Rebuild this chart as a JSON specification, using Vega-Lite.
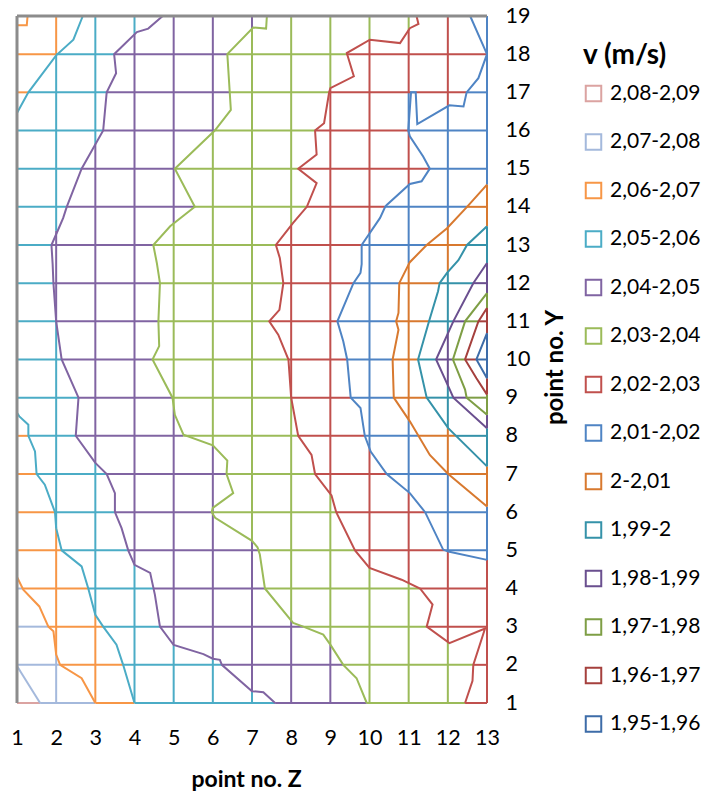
{
"$schema": "https://vega.github.io/schema/vega-lite/v6.json",
"width": 470, "height": 687,
"autosize": {"type": "none"},
"padding": {"left": 17, "top": 16, "right": 230, "bottom": 93},
"background": "white",
"config": {"view": {"stroke": null}, "font": "Lato", "axis": {"labelOverlap": false, "labelFlush": false, "labelBound": false}},
"datasets": {
"grid": [
{"z1":2,"y1":1,"z2":2,"y2":2.27,"v":"2,07-2,08"},{"z1":2,"y1":2.27,"z2":2,"y2":5.58,"v":"2,06-2,07"},{"z1":2,"y1":5.58,"z2":2,"y2":11,"v":"2,05-2,06"},{"z1":2,"y1":11,"z2":2,"y2":13.37,"v":"2,04-2,05"},{"z1":2,"y1":13.37,"z2":2,"y2":17.97,"v":"2,05-2,06"},{"z1":2,"y1":17.97,"z2":2,"y2":19,"v":"2,06-2,07"},
{"z1":3,"y1":1,"z2":3,"y2":3.31,"v":"2,06-2,07"},{"z1":3,"y1":3.31,"z2":3,"y2":7.29,"v":"2,05-2,06"},{"z1":3,"y1":7.29,"z2":3,"y2":15.64,"v":"2,04-2,05"},{"z1":3,"y1":15.64,"z2":3,"y2":19,"v":"2,05-2,06"},
{"z1":4,"y1":1,"z2":4,"y2":4.62,"v":"2,05-2,06"},{"z1":4,"y1":4.62,"z2":4,"y2":18.53,"v":"2,04-2,05"},{"z1":4,"y1":18.53,"z2":4,"y2":19,"v":"2,05-2,06"},
{"z1":5,"y1":1,"z2":5,"y2":2.52,"v":"2,05-2,06"},{"z1":5,"y1":2.52,"z2":5,"y2":8.75,"v":"2,04-2,05"},{"z1":5,"y1":8.75,"z2":5,"y2":13.56,"v":"2,03-2,04"},{"z1":5,"y1":13.56,"z2":5,"y2":19,"v":"2,04-2,05"},
{"z1":6,"y1":1,"z2":6,"y2":2.16,"v":"2,05-2,06"},{"z1":6,"y1":2.16,"z2":6,"y2":7.75,"v":"2,04-2,05"},{"z1":6,"y1":7.75,"z2":6,"y2":15.95,"v":"2,03-2,04"},{"z1":6,"y1":15.95,"z2":6,"y2":19,"v":"2,04-2,05"},
{"z1":7,"y1":1,"z2":7,"y2":1.31,"v":"2,05-2,06"},{"z1":7,"y1":1.31,"z2":7,"y2":5.25,"v":"2,04-2,05"},{"z1":7,"y1":5.25,"z2":7,"y2":18.67,"v":"2,03-2,04"},{"z1":7,"y1":18.67,"z2":7,"y2":19,"v":"2,04-2,05"},
{"z1":8,"y1":1,"z2":8,"y2":3.16,"v":"2,04-2,05"},{"z1":8,"y1":3.16,"z2":8,"y2":9,"v":"2,03-2,04"},{"z1":8,"y1":9,"z2":8,"y2":13.51,"v":"2,02-2,03"},{"z1":8,"y1":13.51,"z2":8,"y2":19,"v":"2,03-2,04"},
{"z1":9,"y1":1,"z2":9,"y2":2.53,"v":"2,04-2,05"},{"z1":9,"y1":2.53,"z2":9,"y2":6.48,"v":"2,03-2,04"},{"z1":9,"y1":6.48,"z2":9,"y2":17.1,"v":"2,02-2,03"},{"z1":9,"y1":17.1,"z2":9,"y2":19,"v":"2,03-2,04"},
{"z1":10,"y1":1,"z2":10,"y2":4.54,"v":"2,03-2,04"},{"z1":10,"y1":4.54,"z2":10,"y2":7.67,"v":"2,02-2,03"},{"z1":10,"y1":7.67,"z2":10,"y2":13.3,"v":"2,01-2,02"},{"z1":10,"y1":13.3,"z2":10,"y2":18.37,"v":"2,02-2,03"},{"z1":10,"y1":18.37,"z2":10,"y2":19,"v":"2,03-2,04"},
{"z1":11,"y1":1,"z2":11,"y2":4.14,"v":"2,03-2,04"},{"z1":11,"y1":4.14,"z2":11,"y2":6.53,"v":"2,02-2,03"},{"z1":11,"y1":6.53,"z2":11,"y2":8.43,"v":"2,01-2,02"},{"z1":11,"y1":8.43,"z2":11,"y2":12.52,"v":"2-2,01"},{"z1":11,"y1":12.52,"z2":11,"y2":14.57,"v":"2,01-2,02"},{"z1":11,"y1":14.57,"z2":11,"y2":15.96,"v":"2,02-2,03"},{"z1":11,"y1":15.96,"z2":11,"y2":17,"v":"2,01-2,02"},{"z1":11,"y1":17,"z2":11,"y2":18.64,"v":"2,02-2,03"},{"z1":11,"y1":18.64,"z2":11,"y2":19,"v":"2,03-2,04"},
{"z1":12,"y1":1,"z2":12,"y2":2.6,"v":"2,03-2,04"},{"z1":12,"y1":2.6,"z2":12,"y2":4.97,"v":"2,02-2,03"},{"z1":12,"y1":4.97,"z2":12,"y2":7,"v":"2,01-2,02"},{"z1":12,"y1":7,"z2":12,"y2":8.2,"v":"2-2,01"},{"z1":12,"y1":8.2,"z2":12,"y2":9.32,"v":"1,99-2"},{"z1":12,"y1":9.32,"z2":12,"y2":10.68,"v":"1,98-1,99"},{"z1":12,"y1":10.68,"z2":12,"y2":12.29,"v":"1,99-2"},{"z1":12,"y1":12.29,"z2":12,"y2":13.46,"v":"2-2,01"},{"z1":12,"y1":13.46,"z2":12,"y2":16.64,"v":"2,01-2,02"},{"z1":12,"y1":16.64,"z2":12,"y2":19,"v":"2,02-2,03"},
{"z1":13,"y1":1,"z2":13,"y2":4.75,"v":"2,02-2,03"},{"z1":13,"y1":4.75,"z2":13,"y2":6.15,"v":"2,01-2,02"},{"z1":13,"y1":6.15,"z2":13,"y2":7.2,"v":"2-2,01"},{"z1":13,"y1":7.2,"z2":13,"y2":8.2,"v":"1,99-2"},{"z1":13,"y1":8.2,"z2":13,"y2":8.55,"v":"1,98-1,99"},{"z1":13,"y1":8.55,"z2":13,"y2":9.08,"v":"1,97-1,98"},{"z1":13,"y1":9.08,"z2":13,"y2":9.51,"v":"1,96-1,97"},{"z1":13,"y1":9.51,"z2":13,"y2":10.69,"v":"1,95-1,96"},{"z1":13,"y1":10.69,"z2":13,"y2":11.35,"v":"1,96-1,97"},{"z1":13,"y1":11.35,"z2":13,"y2":11.74,"v":"1,97-1,98"},{"z1":13,"y1":11.74,"z2":13,"y2":12.53,"v":"1,98-1,99"},{"z1":13,"y1":12.53,"z2":13,"y2":13.49,"v":"1,99-2"},{"z1":13,"y1":13.49,"z2":13,"y2":14.58,"v":"2-2,01"},{"z1":13,"y1":14.58,"z2":13,"y2":19,"v":"2,01-2,02"},
{"z1":1,"y1":1,"z2":1.59,"y2":1,"v":"2,08-2,09"},{"z1":1.59,"y1":1,"z2":3,"y2":1,"v":"2,07-2,08"},{"z1":3,"y1":1,"z2":4,"y2":1,"v":"2,06-2,07"},{"z1":4,"y1":1,"z2":7.59,"y2":1,"v":"2,05-2,06"},{"z1":7.59,"y1":1,"z2":9.93,"y2":1,"v":"2,04-2,05"},{"z1":9.93,"y1":1,"z2":12.44,"y2":1,"v":"2,03-2,04"},{"z1":12.44,"y1":1,"z2":13,"y2":1,"v":"2,02-2,03"},
{"z1":1,"y1":2,"z2":2.1,"y2":2,"v":"2,07-2,08"},{"z1":2.1,"y1":2,"z2":3.71,"y2":2,"v":"2,06-2,07"},{"z1":3.71,"y1":2,"z2":6.23,"y2":2,"v":"2,05-2,06"},{"z1":6.23,"y1":2,"z2":9.33,"y2":2,"v":"2,04-2,05"},{"z1":9.33,"y1":2,"z2":12.65,"y2":2,"v":"2,03-2,04"},{"z1":12.65,"y1":2,"z2":13,"y2":2,"v":"2,02-2,03"},
{"z1":1,"y1":3,"z2":1.8,"y2":3,"v":"2,07-2,08"},{"z1":1.8,"y1":3,"z2":3.2,"y2":3,"v":"2,06-2,07"},{"z1":3.2,"y1":3,"z2":4.65,"y2":3,"v":"2,05-2,06"},{"z1":4.65,"y1":3,"z2":8.31,"y2":3,"v":"2,04-2,05"},{"z1":8.31,"y1":3,"z2":11.46,"y2":3,"v":"2,03-2,04"},{"z1":11.46,"y1":3,"z2":13,"y2":3,"v":"2,02-2,03"},
{"z1":1,"y1":4,"z2":1.15,"y2":4,"v":"2,07-2,08"},{"z1":1.15,"y1":4,"z2":2.82,"y2":4,"v":"2,06-2,07"},{"z1":2.82,"y1":4,"z2":4.49,"y2":4,"v":"2,05-2,06"},{"z1":4.49,"y1":4,"z2":7.33,"y2":4,"v":"2,04-2,05"},{"z1":7.33,"y1":4,"z2":11.29,"y2":4,"v":"2,03-2,04"},{"z1":11.29,"y1":4,"z2":13,"y2":4,"v":"2,02-2,03"},
{"z1":1,"y1":5,"z2":2.14,"y2":5,"v":"2,06-2,07"},{"z1":2.14,"y1":5,"z2":3.84,"y2":5,"v":"2,05-2,06"},{"z1":3.84,"y1":5,"z2":7.17,"y2":5,"v":"2,04-2,05"},{"z1":7.17,"y1":5,"z2":9.63,"y2":5,"v":"2,03-2,04"},{"z1":9.63,"y1":5,"z2":11.94,"y2":5,"v":"2,02-2,03"},{"z1":11.94,"y1":5,"z2":13,"y2":5,"v":"2,01-2,02"},
{"z1":1,"y1":6,"z2":1.97,"y2":6,"v":"2,06-2,07"},{"z1":1.97,"y1":6,"z2":3.5,"y2":6,"v":"2,05-2,06"},{"z1":3.5,"y1":6,"z2":5.97,"y2":6,"v":"2,04-2,05"},{"z1":5.97,"y1":6,"z2":9.15,"y2":6,"v":"2,03-2,04"},{"z1":9.15,"y1":6,"z2":11.42,"y2":6,"v":"2,02-2,03"},{"z1":11.42,"y1":6,"z2":13,"y2":6,"v":"2,01-2,02"},
{"z1":1,"y1":7,"z2":1.5,"y2":7,"v":"2,06-2,07"},{"z1":1.5,"y1":7,"z2":3.29,"y2":7,"v":"2,05-2,06"},{"z1":3.29,"y1":7,"z2":6.35,"y2":7,"v":"2,04-2,05"},{"z1":6.35,"y1":7,"z2":8.61,"y2":7,"v":"2,03-2,04"},{"z1":8.61,"y1":7,"z2":10.44,"y2":7,"v":"2,02-2,03"},{"z1":10.44,"y1":7,"z2":12.01,"y2":7,"v":"2,01-2,02"},{"z1":12.01,"y1":7,"z2":13,"y2":7,"v":"2-2,01"},
{"z1":1,"y1":8,"z2":1.29,"y2":8,"v":"2,06-2,07"},{"z1":1.29,"y1":8,"z2":2.5,"y2":8,"v":"2,05-2,06"},{"z1":2.5,"y1":8,"z2":5.25,"y2":8,"v":"2,04-2,05"},{"z1":5.25,"y1":8,"z2":8.18,"y2":8,"v":"2,03-2,04"},{"z1":8.18,"y1":8,"z2":9.88,"y2":8,"v":"2,02-2,03"},{"z1":9.88,"y1":8,"z2":11.25,"y2":8,"v":"2,01-2,02"},{"z1":11.25,"y1":8,"z2":12.21,"y2":8,"v":"2-2,01"},{"z1":12.21,"y1":8,"z2":13,"y2":8,"v":"1,99-2"},
{"z1":1,"y1":9,"z2":2.57,"y2":9,"v":"2,05-2,06"},{"z1":2.57,"y1":9,"z2":4.97,"y2":9,"v":"2,04-2,05"},{"z1":4.97,"y1":9,"z2":8,"y2":9,"v":"2,03-2,04"},{"z1":8,"y1":9,"z2":9.52,"y2":9,"v":"2,02-2,03"},{"z1":9.52,"y1":9,"z2":10.62,"y2":9,"v":"2,01-2,02"},{"z1":10.62,"y1":9,"z2":11.46,"y2":9,"v":"2-2,01"},{"z1":11.46,"y1":9,"z2":12.14,"y2":9,"v":"1,99-2"},{"z1":12.14,"y1":9,"z2":12.48,"y2":9,"v":"1,98-1,99"},{"z1":12.48,"y1":9,"z2":13,"y2":9,"v":"1,97-1,98"},
{"z1":1,"y1":10,"z2":2.14,"y2":10,"v":"2,05-2,06"},{"z1":2.14,"y1":10,"z2":4.46,"y2":10,"v":"2,04-2,05"},{"z1":4.46,"y1":10,"z2":7.93,"y2":10,"v":"2,03-2,04"},{"z1":7.93,"y1":10,"z2":9.43,"y2":10,"v":"2,02-2,03"},{"z1":9.43,"y1":10,"z2":10.59,"y2":10,"v":"2,01-2,02"},{"z1":10.59,"y1":10,"z2":11.24,"y2":10,"v":"2-2,01"},{"z1":11.24,"y1":10,"z2":11.7,"y2":10,"v":"1,99-2"},{"z1":11.7,"y1":10,"z2":12.13,"y2":10,"v":"1,98-1,99"},{"z1":12.13,"y1":10,"z2":12.44,"y2":10,"v":"1,97-1,98"},{"z1":12.44,"y1":10,"z2":12.73,"y2":10,"v":"1,96-1,97"},{"z1":12.73,"y1":10,"z2":13,"y2":10,"v":"1,95-1,96"},
{"z1":1,"y1":11,"z2":2,"y2":11,"v":"2,05-2,06"},{"z1":2,"y1":11,"z2":4.61,"y2":11,"v":"2,04-2,05"},{"z1":4.61,"y1":11,"z2":7.44,"y2":11,"v":"2,03-2,04"},{"z1":7.44,"y1":11,"z2":9.18,"y2":11,"v":"2,02-2,03"},{"z1":9.18,"y1":11,"z2":10.68,"y2":11,"v":"2,01-2,02"},{"z1":10.68,"y1":11,"z2":11.52,"y2":11,"v":"2-2,01"},{"z1":11.52,"y1":11,"z2":12.14,"y2":11,"v":"1,99-2"},{"z1":12.14,"y1":11,"z2":12.44,"y2":11,"v":"1,98-1,99"},{"z1":12.44,"y1":11,"z2":12.78,"y2":11,"v":"1,97-1,98"},{"z1":12.78,"y1":11,"z2":13,"y2":11,"v":"1,96-1,97"},
{"z1":1,"y1":12,"z2":1.93,"y2":12,"v":"2,05-2,06"},{"z1":1.93,"y1":12,"z2":4.65,"y2":12,"v":"2,04-2,05"},{"z1":4.65,"y1":12,"z2":7.8,"y2":12,"v":"2,03-2,04"},{"z1":7.8,"y1":12,"z2":9.59,"y2":12,"v":"2,02-2,03"},{"z1":9.59,"y1":12,"z2":10.76,"y2":12,"v":"2,01-2,02"},{"z1":10.76,"y1":12,"z2":11.79,"y2":12,"v":"2-2,01"},{"z1":11.79,"y1":12,"z2":12.65,"y2":12,"v":"1,99-2"},{"z1":12.65,"y1":12,"z2":13,"y2":12,"v":"1,98-1,99"},
{"z1":1,"y1":13,"z2":1.88,"y2":13,"v":"2,05-2,06"},{"z1":1.88,"y1":13,"z2":4.48,"y2":13,"v":"2,04-2,05"},{"z1":4.48,"y1":13,"z2":7.61,"y2":13,"v":"2,03-2,04"},{"z1":7.61,"y1":13,"z2":9.8,"y2":13,"v":"2,02-2,03"},{"z1":9.8,"y1":13,"z2":11.46,"y2":13,"v":"2,01-2,02"},{"z1":11.46,"y1":13,"z2":12.49,"y2":13,"v":"2-2,01"},{"z1":12.49,"y1":13,"z2":13,"y2":13,"v":"1,99-2"},
{"z1":1,"y1":14,"z2":2.27,"y2":14,"v":"2,05-2,06"},{"z1":2.27,"y1":14,"z2":5.54,"y2":14,"v":"2,04-2,05"},{"z1":5.54,"y1":14,"z2":8.4,"y2":14,"v":"2,03-2,04"},{"z1":8.4,"y1":14,"z2":10.4,"y2":14,"v":"2,02-2,03"},{"z1":10.4,"y1":14,"z2":12.49,"y2":14,"v":"2,01-2,02"},{"z1":12.49,"y1":14,"z2":13,"y2":14,"v":"2-2,01"},
{"z1":1,"y1":15,"z2":2.65,"y2":15,"v":"2,05-2,06"},{"z1":2.65,"y1":15,"z2":5.03,"y2":15,"v":"2,04-2,05"},{"z1":5.03,"y1":15,"z2":8.18,"y2":15,"v":"2,03-2,04"},{"z1":8.18,"y1":15,"z2":11.54,"y2":15,"v":"2,02-2,03"},{"z1":11.54,"y1":15,"z2":13,"y2":15,"v":"2,01-2,02"},
{"z1":1,"y1":16,"z2":3.2,"y2":16,"v":"2,05-2,06"},{"z1":3.2,"y1":16,"z2":6.05,"y2":16,"v":"2,04-2,05"},{"z1":6.05,"y1":16,"z2":8.61,"y2":16,"v":"2,03-2,04"},{"z1":8.61,"y1":16,"z2":10.99,"y2":16,"v":"2,02-2,03"},{"z1":10.99,"y1":16,"z2":13,"y2":16,"v":"2,01-2,02"},
{"z1":1,"y1":17,"z2":1.29,"y2":17,"v":"2,06-2,07"},{"z1":1.29,"y1":17,"z2":3.29,"y2":17,"v":"2,05-2,06"},{"z1":3.29,"y1":17,"z2":6.43,"y2":17,"v":"2,04-2,05"},{"z1":6.43,"y1":17,"z2":8.97,"y2":17,"v":"2,03-2,04"},{"z1":8.97,"y1":17,"z2":11.06,"y2":17,"v":"2,02-2,03"},{"z1":11.06,"y1":17,"z2":11.18,"y2":17,"v":"2,01-2,02"},{"z1":11.18,"y1":17,"z2":12.48,"y2":17,"v":"2,02-2,03"},{"z1":12.48,"y1":17,"z2":13,"y2":17,"v":"2,01-2,02"},
{"z1":1,"y1":18,"z2":2,"y2":18,"v":"2,06-2,07"},{"z1":2,"y1":18,"z2":3.48,"y2":18,"v":"2,05-2,06"},{"z1":3.48,"y1":18,"z2":6.37,"y2":18,"v":"2,04-2,05"},{"z1":6.37,"y1":18,"z2":9.4,"y2":18,"v":"2,03-2,04"},{"z1":9.4,"y1":18,"z2":13,"y2":18,"v":"2,02-2,03"}
],
"contours": [
{"c":"A","i":1,"z1":1,"y1":1.97,"v":"2,07-2,08"},{"c":"A","i":2,"z1":1.59,"y1":1,"v":"2,07-2,08"},
{"c":"B","i":1,"z1":1,"y1":4.3,"v":"2,06-2,07"},{"c":"B","i":2,"z1":1.16,"y1":3.97,"v":"2,06-2,07"},{"c":"B","i":3,"z1":1.57,"y1":3.53,"v":"2,06-2,07"},{"c":"B","i":4,"z1":1.8,"y1":3,"v":"2,06-2,07"},{"c":"B","i":5,"z1":1.93,"y1":2.88,"v":"2,06-2,07"},{"c":"B","i":6,"z1":2,"y1":2.27,"v":"2,06-2,07"},{"c":"B","i":7,"z1":2.1,"y1":2,"v":"2,06-2,07"},{"c":"B","i":8,"z1":2.65,"y1":1.65,"v":"2,06-2,07"},{"c":"B","i":9,"z1":3,"y1":1,"v":"2,06-2,07"},
{"c":"B2","i":1,"z1":1,"y1":18.76,"v":"2,06-2,07"},{"c":"B2","i":2,"z1":1.25,"y1":18.76,"v":"2,06-2,07"},{"c":"B2","i":3,"z1":1.27,"y1":19,"v":"2,06-2,07"},
{"c":"C","i":1,"z1":1,"y1":8.6,"v":"2,05-2,06"},{"c":"C","i":2,"z1":1.06,"y1":8.51,"v":"2,05-2,06"},{"c":"C","i":3,"z1":1.29,"y1":8.29,"v":"2,05-2,06"},{"c":"C","i":4,"z1":1.29,"y1":8,"v":"2,05-2,06"},{"c":"C","i":5,"z1":1.46,"y1":7.59,"v":"2,05-2,06"},{"c":"C","i":6,"z1":1.5,"y1":7,"v":"2,05-2,06"},{"c":"C","i":7,"z1":1.71,"y1":6.72,"v":"2,05-2,06"},{"c":"C","i":8,"z1":1.97,"y1":6,"v":"2,05-2,06"},{"c":"C","i":9,"z1":2,"y1":5.58,"v":"2,05-2,06"},{"c":"C","i":10,"z1":2.14,"y1":5,"v":"2,05-2,06"},{"c":"C","i":11,"z1":2.65,"y1":4.58,"v":"2,05-2,06"},{"c":"C","i":12,"z1":2.82,"y1":4,"v":"2,05-2,06"},{"c":"C","i":13,"z1":3,"y1":3.31,"v":"2,05-2,06"},{"c":"C","i":14,"z1":3.2,"y1":3,"v":"2,05-2,06"},{"c":"C","i":15,"z1":3.54,"y1":2.53,"v":"2,05-2,06"},{"c":"C","i":16,"z1":3.71,"y1":2,"v":"2,05-2,06"},{"c":"C","i":17,"z1":4,"y1":1,"v":"2,05-2,06"},
{"c":"C2","i":1,"z1":1,"y1":16.46,"v":"2,05-2,06"},{"c":"C2","i":2,"z1":1.29,"y1":17,"v":"2,05-2,06"},{"c":"C2","i":3,"z1":2,"y1":17.97,"v":"2,05-2,06"},{"c":"C2","i":4,"z1":2.44,"y1":18.38,"v":"2,05-2,06"},{"c":"C2","i":5,"z1":2.68,"y1":19,"v":"2,05-2,06"},
{"c":"D","i":1,"z1":4.72,"y1":19,"v":"2,04-2,05"},{"c":"D","i":2,"z1":4.35,"y1":18.67,"v":"2,04-2,05"},{"c":"D","i":3,"z1":4.06,"y1":18.58,"v":"2,04-2,05"},{"c":"D","i":4,"z1":3.48,"y1":18,"v":"2,04-2,05"},{"c":"D","i":5,"z1":3.53,"y1":17.5,"v":"2,04-2,05"},{"c":"D","i":6,"z1":3.29,"y1":17,"v":"2,04-2,05"},{"c":"D","i":7,"z1":3.2,"y1":16,"v":"2,04-2,05"},{"c":"D","i":8,"z1":2.65,"y1":15,"v":"2,04-2,05"},{"c":"D","i":9,"z1":2.27,"y1":14,"v":"2,04-2,05"},{"c":"D","i":10,"z1":2.18,"y1":13.71,"v":"2,04-2,05"},{"c":"D","i":11,"z1":2.05,"y1":13.4,"v":"2,04-2,05"},{"c":"D","i":12,"z1":1.88,"y1":13,"v":"2,04-2,05"},{"c":"D","i":13,"z1":1.91,"y1":12.5,"v":"2,04-2,05"},{"c":"D","i":14,"z1":1.93,"y1":12,"v":"2,04-2,05"},{"c":"D","i":15,"z1":2,"y1":11,"v":"2,04-2,05"},{"c":"D","i":16,"z1":2.14,"y1":10,"v":"2,04-2,05"},{"c":"D","i":17,"z1":2.57,"y1":9,"v":"2,04-2,05"},{"c":"D","i":18,"z1":2.5,"y1":8,"v":"2,04-2,05"},{"c":"D","i":19,"z1":3,"y1":7.29,"v":"2,04-2,05"},{"c":"D","i":20,"z1":3.29,"y1":7,"v":"2,04-2,05"},{"c":"D","i":21,"z1":3.5,"y1":6.5,"v":"2,04-2,05"},{"c":"D","i":22,"z1":3.5,"y1":6,"v":"2,04-2,05"},{"c":"D","i":23,"z1":3.67,"y1":5.58,"v":"2,04-2,05"},{"c":"D","i":24,"z1":3.84,"y1":5,"v":"2,04-2,05"},{"c":"D","i":25,"z1":4,"y1":4.62,"v":"2,04-2,05"},{"c":"D","i":26,"z1":4.4,"y1":4.41,"v":"2,04-2,05"},{"c":"D","i":27,"z1":4.52,"y1":3.84,"v":"2,04-2,05"},{"c":"D","i":28,"z1":4.65,"y1":3,"v":"2,04-2,05"},{"c":"D","i":29,"z1":5,"y1":2.52,"v":"2,04-2,05"},{"c":"D","i":30,"z1":5.76,"y1":2.28,"v":"2,04-2,05"},{"c":"D","i":31,"z1":6,"y1":2.16,"v":"2,04-2,05"},{"c":"D","i":32,"z1":6.18,"y1":2.13,"v":"2,04-2,05"},{"c":"D","i":33,"z1":6.23,"y1":2,"v":"2,04-2,05"},{"c":"D","i":34,"z1":7,"y1":1.31,"v":"2,04-2,05"},{"c":"D","i":35,"z1":7.29,"y1":1.28,"v":"2,04-2,05"},{"c":"D","i":36,"z1":7.59,"y1":1,"v":"2,04-2,05"},
{"c":"E","i":1,"z1":7.38,"y1":19,"v":"2,03-2,04"},{"c":"E","i":2,"z1":7.36,"y1":18.67,"v":"2,03-2,04"},{"c":"E","i":3,"z1":7.03,"y1":18.7,"v":"2,03-2,04"},{"c":"E","i":4,"z1":6.37,"y1":18,"v":"2,03-2,04"},{"c":"E","i":5,"z1":6.46,"y1":16.54,"v":"2,03-2,04"},{"c":"E","i":6,"z1":6.05,"y1":16,"v":"2,03-2,04"},{"c":"E","i":7,"z1":5.03,"y1":15,"v":"2,03-2,04"},{"c":"E","i":8,"z1":5.54,"y1":14,"v":"2,03-2,04"},{"c":"E","i":9,"z1":4.91,"y1":13.49,"v":"2,03-2,04"},{"c":"E","i":10,"z1":4.48,"y1":13,"v":"2,03-2,04"},{"c":"E","i":11,"z1":4.57,"y1":12.53,"v":"2,03-2,04"},{"c":"E","i":12,"z1":4.65,"y1":12,"v":"2,03-2,04"},{"c":"E","i":13,"z1":4.61,"y1":11,"v":"2,03-2,04"},{"c":"E","i":14,"z1":4.63,"y1":10.35,"v":"2,03-2,04"},{"c":"E","i":15,"z1":4.46,"y1":10,"v":"2,03-2,04"},{"c":"E","i":16,"z1":4.97,"y1":9,"v":"2,03-2,04"},{"c":"E","i":17,"z1":5.03,"y1":8.55,"v":"2,03-2,04"},{"c":"E","i":18,"z1":5.25,"y1":8.03,"v":"2,03-2,04"},{"c":"E","i":19,"z1":6,"y1":7.75,"v":"2,03-2,04"},{"c":"E","i":20,"z1":6.37,"y1":7.35,"v":"2,03-2,04"},{"c":"E","i":21,"z1":6.35,"y1":7,"v":"2,03-2,04"},{"c":"E","i":22,"z1":6.52,"y1":6.5,"v":"2,03-2,04"},{"c":"E","i":23,"z1":6,"y1":6.11,"v":"2,03-2,04"},{"c":"E","i":24,"z1":5.97,"y1":6,"v":"2,03-2,04"},{"c":"E","i":25,"z1":6.06,"y1":5.85,"v":"2,03-2,04"},{"c":"E","i":26,"z1":7,"y1":5.25,"v":"2,03-2,04"},{"c":"E","i":27,"z1":7.14,"y1":5.08,"v":"2,03-2,04"},{"c":"E","i":28,"z1":7.2,"y1":4.89,"v":"2,03-2,04"},{"c":"E","i":29,"z1":7.33,"y1":4,"v":"2,03-2,04"},{"c":"E","i":30,"z1":8.05,"y1":3.1,"v":"2,03-2,04"},{"c":"E","i":31,"z1":8.31,"y1":3,"v":"2,03-2,04"},{"c":"E","i":32,"z1":8.82,"y1":2.79,"v":"2,03-2,04"},{"c":"E","i":33,"z1":9,"y1":2.53,"v":"2,03-2,04"},{"c":"E","i":34,"z1":9.33,"y1":2,"v":"2,03-2,04"},{"c":"E","i":35,"z1":9.67,"y1":1.65,"v":"2,03-2,04"},{"c":"E","i":36,"z1":9.93,"y1":1,"v":"2,03-2,04"},
{"c":"F","i":1,"z1":11.2,"y1":19,"v":"2,02-2,03"},{"c":"F","i":2,"z1":11.25,"y1":18.79,"v":"2,02-2,03"},{"c":"F","i":3,"z1":11.03,"y1":18.68,"v":"2,02-2,03"},{"c":"F","i":4,"z1":10.78,"y1":18.29,"v":"2,02-2,03"},{"c":"F","i":5,"z1":10.01,"y1":18.38,"v":"2,02-2,03"},{"c":"F","i":6,"z1":9.42,"y1":18.03,"v":"2,02-2,03"},{"c":"F","i":7,"z1":9.6,"y1":17.42,"v":"2,02-2,03"},{"c":"F","i":8,"z1":9,"y1":17.11,"v":"2,02-2,03"},{"c":"F","i":9,"z1":8.97,"y1":17,"v":"2,02-2,03"},{"c":"F","i":10,"z1":8.84,"y1":16.19,"v":"2,02-2,03"},{"c":"F","i":11,"z1":8.61,"y1":16,"v":"2,02-2,03"},{"c":"F","i":12,"z1":8.65,"y1":15.37,"v":"2,02-2,03"},{"c":"F","i":13,"z1":8.18,"y1":15,"v":"2,02-2,03"},{"c":"F","i":14,"z1":8.65,"y1":14.62,"v":"2,02-2,03"},{"c":"F","i":15,"z1":8.4,"y1":14,"v":"2,02-2,03"},{"c":"F","i":16,"z1":8.05,"y1":13.58,"v":"2,02-2,03"},{"c":"F","i":17,"z1":7.61,"y1":13,"v":"2,02-2,03"},{"c":"F","i":18,"z1":7.71,"y1":12.66,"v":"2,02-2,03"},{"c":"F","i":19,"z1":7.8,"y1":12,"v":"2,02-2,03"},{"c":"F","i":20,"z1":7.7,"y1":11.3,"v":"2,02-2,03"},{"c":"F","i":21,"z1":7.44,"y1":11,"v":"2,02-2,03"},{"c":"F","i":22,"z1":7.67,"y1":10.65,"v":"2,02-2,03"},{"c":"F","i":23,"z1":7.93,"y1":10,"v":"2,02-2,03"},{"c":"F","i":24,"z1":8,"y1":9,"v":"2,02-2,03"},{"c":"F","i":25,"z1":8.18,"y1":8,"v":"2,02-2,03"},{"c":"F","i":26,"z1":8.52,"y1":7.5,"v":"2,02-2,03"},{"c":"F","i":27,"z1":8.61,"y1":7,"v":"2,02-2,03"},{"c":"F","i":28,"z1":9.03,"y1":6.44,"v":"2,02-2,03"},{"c":"F","i":29,"z1":9.15,"y1":6,"v":"2,02-2,03"},{"c":"F","i":30,"z1":9.63,"y1":5,"v":"2,02-2,03"},{"c":"F","i":31,"z1":10,"y1":4.54,"v":"2,02-2,03"},{"c":"F","i":32,"z1":10.82,"y1":4.23,"v":"2,02-2,03"},{"c":"F","i":33,"z1":11.29,"y1":4,"v":"2,02-2,03"},{"c":"F","i":34,"z1":11.61,"y1":3.58,"v":"2,02-2,03"},{"c":"F","i":35,"z1":11.46,"y1":3,"v":"2,02-2,03"},{"c":"F","i":36,"z1":12.04,"y1":2.57,"v":"2,02-2,03"},{"c":"F","i":37,"z1":12.95,"y1":2.95,"v":"2,02-2,03"},{"c":"F","i":38,"z1":12.65,"y1":2,"v":"2,02-2,03"},{"c":"F","i":39,"z1":12.63,"y1":1.58,"v":"2,02-2,03"},{"c":"F","i":40,"z1":12.44,"y1":1,"v":"2,02-2,03"},
{"c":"G","i":1,"z1":12.57,"y1":19,"v":"2,01-2,02"},{"c":"G","i":2,"z1":13,"y1":18,"v":"2,01-2,02"},{"c":"G","i":3,"z1":12.78,"y1":17.37,"v":"2,01-2,02"},{"c":"G","i":4,"z1":12.48,"y1":17,"v":"2,01-2,02"},{"c":"G","i":5,"z1":12.4,"y1":16.63,"v":"2,01-2,02"},{"c":"G","i":6,"z1":12.04,"y1":16.66,"v":"2,01-2,02"},{"c":"G","i":7,"z1":11.22,"y1":16.17,"v":"2,01-2,02"},{"c":"G","i":8,"z1":11.18,"y1":17,"v":"2,01-2,02"},{"c":"G","i":9,"z1":11.06,"y1":17,"v":"2,01-2,02"},{"c":"G","i":10,"z1":10.99,"y1":16,"v":"2,01-2,02"},{"c":"G","i":11,"z1":11.03,"y1":15.85,"v":"2,01-2,02"},{"c":"G","i":12,"z1":11.37,"y1":15.32,"v":"2,01-2,02"},{"c":"G","i":13,"z1":11.54,"y1":15,"v":"2,01-2,02"},{"c":"G","i":14,"z1":11.33,"y1":14.67,"v":"2,01-2,02"},{"c":"G","i":15,"z1":11.03,"y1":14.6,"v":"2,01-2,02"},{"c":"G","i":16,"z1":10.44,"y1":14.05,"v":"2,01-2,02"},{"c":"G","i":17,"z1":10.4,"y1":14,"v":"2,01-2,02"},{"c":"G","i":18,"z1":10.27,"y1":13.71,"v":"2,01-2,02"},{"c":"G","i":19,"z1":9.8,"y1":13,"v":"2,01-2,02"},{"c":"G","i":20,"z1":9.8,"y1":12.5,"v":"2,01-2,02"},{"c":"G","i":21,"z1":9.77,"y1":12.27,"v":"2,01-2,02"},{"c":"G","i":22,"z1":9.59,"y1":12,"v":"2,01-2,02"},{"c":"G","i":23,"z1":9.18,"y1":11,"v":"2,01-2,02"},{"c":"G","i":24,"z1":9.33,"y1":10.48,"v":"2,01-2,02"},{"c":"G","i":25,"z1":9.43,"y1":10,"v":"2,01-2,02"},{"c":"G","i":26,"z1":9.52,"y1":9,"v":"2,01-2,02"},{"c":"G","i":27,"z1":9.77,"y1":8.73,"v":"2,01-2,02"},{"c":"G","i":28,"z1":9.88,"y1":8,"v":"2,01-2,02"},{"c":"G","i":29,"z1":10.03,"y1":7.59,"v":"2,01-2,02"},{"c":"G","i":30,"z1":10.44,"y1":7,"v":"2,01-2,02"},{"c":"G","i":31,"z1":11.03,"y1":6.5,"v":"2,01-2,02"},{"c":"G","i":32,"z1":11.42,"y1":6,"v":"2,01-2,02"},{"c":"G","i":33,"z1":11.88,"y1":5.02,"v":"2,01-2,02"},{"c":"G","i":34,"z1":12.01,"y1":4.97,"v":"2,01-2,02"},{"c":"G","i":35,"z1":13,"y1":4.75,"v":"2,01-2,02"},
{"c":"H","i":1,"z1":13,"y1":14.58,"v":"2-2,01"},{"c":"H","i":2,"z1":12.49,"y1":14,"v":"2-2,01"},{"c":"H","i":3,"z1":11.98,"y1":13.44,"v":"2-2,01"},{"c":"H","i":4,"z1":11.46,"y1":13,"v":"2-2,01"},{"c":"H","i":5,"z1":11.03,"y1":12.55,"v":"2-2,01"},{"c":"H","i":6,"z1":10.76,"y1":12,"v":"2-2,01"},{"c":"H","i":7,"z1":10.74,"y1":11.22,"v":"2-2,01"},{"c":"H","i":8,"z1":10.68,"y1":11,"v":"2-2,01"},{"c":"H","i":9,"z1":10.74,"y1":10.78,"v":"2-2,01"},{"c":"H","i":10,"z1":10.59,"y1":10,"v":"2-2,01"},{"c":"H","i":11,"z1":10.62,"y1":9,"v":"2-2,01"},{"c":"H","i":12,"z1":11.03,"y1":8.38,"v":"2-2,01"},{"c":"H","i":13,"z1":11.54,"y1":7.5,"v":"2-2,01"},{"c":"H","i":14,"z1":12.01,"y1":7,"v":"2-2,01"},{"c":"H","i":15,"z1":13,"y1":6.15,"v":"2-2,01"},
{"c":"I","i":1,"z1":13,"y1":13.49,"v":"1,99-2"},{"c":"I","i":2,"z1":12.49,"y1":13,"v":"1,99-2"},{"c":"I","i":3,"z1":12.27,"y1":12.6,"v":"1,99-2"},{"c":"I","i":4,"z1":11.98,"y1":12.27,"v":"1,99-2"},{"c":"I","i":5,"z1":11.79,"y1":12,"v":"1,99-2"},{"c":"I","i":6,"z1":11.75,"y1":11.79,"v":"1,99-2"},{"c":"I","i":7,"z1":11.52,"y1":11,"v":"1,99-2"},{"c":"I","i":8,"z1":11.24,"y1":10,"v":"1,99-2"},{"c":"I","i":9,"z1":11.46,"y1":9,"v":"1,99-2"},{"c":"I","i":10,"z1":12.01,"y1":8.2,"v":"1,99-2"},{"c":"I","i":11,"z1":13,"y1":7.2,"v":"1,99-2"},
{"c":"J","i":1,"z1":13,"y1":12.53,"v":"1,98-1,99"},{"c":"J","i":2,"z1":12.65,"y1":12,"v":"1,98-1,99"},{"c":"J","i":3,"z1":12.14,"y1":11,"v":"1,98-1,99"},{"c":"J","i":4,"z1":11.7,"y1":10,"v":"1,98-1,99"},{"c":"J","i":5,"z1":12.05,"y1":9.21,"v":"1,98-1,99"},{"c":"J","i":6,"z1":12.14,"y1":9,"v":"1,98-1,99"},{"c":"J","i":7,"z1":13,"y1":8.2,"v":"1,98-1,99"},
{"c":"K","i":1,"z1":13,"y1":11.74,"v":"1,97-1,98"},{"c":"K","i":2,"z1":12.44,"y1":11,"v":"1,97-1,98"},{"c":"K","i":3,"z1":12.13,"y1":10,"v":"1,97-1,98"},{"c":"K","i":4,"z1":12.44,"y1":9.21,"v":"1,97-1,98"},{"c":"K","i":5,"z1":12.48,"y1":9,"v":"1,97-1,98"},{"c":"K","i":6,"z1":13,"y1":8.55,"v":"1,97-1,98"},
{"c":"L","i":1,"z1":13,"y1":11.35,"v":"1,96-1,97"},{"c":"L","i":2,"z1":12.78,"y1":11,"v":"1,96-1,97"},{"c":"L","i":3,"z1":12.44,"y1":10,"v":"1,96-1,97"},{"c":"L","i":4,"z1":12.73,"y1":9.51,"v":"1,96-1,97"},{"c":"L","i":5,"z1":13,"y1":9.08,"v":"1,96-1,97"},
{"c":"M","i":1,"z1":13,"y1":10.69,"v":"1,95-1,96"},{"c":"M","i":2,"z1":12.73,"y1":10,"v":"1,95-1,96"},{"c":"M","i":3,"z1":13,"y1":9.51,"v":"1,95-1,96"}
],
"border": [
{"z1":1,"y1":1,"z2":1,"y2":19},{"z1":1,"y1":19,"z2":13,"y2":19}
]
},
"encoding": {
"x": {"field": "z1", "type": "quantitative", "scale": {"domain": [1, 13], "nice": false, "zero": false},
"axis": {"orient": "bottom", "values": [1,2,3,4,5,6,7,8,9,10,11,12,13], "tickCount": 13, "grid": false, "domain": false, "ticks": false, "tickSize": 0,
"labelFontSize": 21.5, "labelColor": "#000", "labelBaseline": "middle", "labelPadding": 35, "labelFont": "Lato", "labelOverlap": false,
"title": "point no. Z", "titleFontSize": 23, "titleFontWeight": "bold", "titleColor": "#000", "titleFont": "Lato",
"titleX": 229, "titleY": 76, "titleBaseline": "middle", "titleAlign": "center"}},
"y": {"field": "y1", "type": "quantitative", "scale": {"domain": [1, 19], "nice": false, "zero": false},
"axis": {"orient": "right", "values": [1,2,3,4,5,6,7,8,9,10,11,12,13,14,15,16,17,18,19], "tickCount": 19, "grid": false, "domain": false, "ticks": false, "tickSize": 0,
"labelFontSize": 21.5, "labelColor": "#000", "labelAlign": "left", "labelBaseline": "middle", "labelPadding": 18, "labelFont": "Lato", "labelOverlap": false,
"title": "point no. Y", "titleFontSize": 24, "titleFontWeight": "bold", "titleColor": "#000", "titleFont": "Lato",
"titleAngle": 270, "titleX": 68, "titleY": 351, "titleBaseline": "middle", "titleAlign": "center"}}
},
"layer": [
{
"data": {"name": "grid"},
"mark": {"type": "rule", "strokeWidth": 2},
"encoding": {
"x2": {"field": "z2"},
"y2": {"field": "y2"},
"color": {"field": "v", "type": "nominal",
"scale": {"domain": ["2,08-2,09","2,07-2,08","2,06-2,07","2,05-2,06","2,04-2,05","2,03-2,04","2,02-2,03","2,01-2,02","2-2,01","1,99-2","1,98-1,99","1,97-1,98","1,96-1,97","1,95-1,96"],
"range": ["#DBA3A1","#A4B9DC","#F79646","#4BACC6","#8064A2","#9BBB59","#C0504D","#4F84C4","#D8792F","#3592A9","#6A4F8F","#7E9E45","#A5403D","#3D6CA8"]},
"legend": {"orient": "none", "legendX": 566, "legendY": 26, "title": "v (m/s)", "titleFontSize": 28, "titleFontWeight": "bold", "titleColor": "#000", "titleFont": "Lato", "titlePadding": 13,
"labelFontSize": 21, "labelColor": "#000", "labelFont": "Lato", "labelOffset": 6,
"symbolType": "square", "symbolSize": 240, "symbolStrokeWidth": 2, "symbolFillColor": "white", "rowPadding": 23.5, "padding": 0}}
}
},
{
"data": {"name": "contours"},
"mark": {"type": "line", "strokeWidth": 2},
"encoding": {
"detail": {"field": "c"},
"order": {"field": "i", "type": "quantitative"},
"color": {"field": "v", "type": "nominal"}
}
},
{
"data": {"name": "border"},
"mark": {"type": "rule", "strokeWidth": 3, "color": "#8C8C8C"},
"encoding": {
"x2": {"field": "z2"},
"y2": {"field": "y2"}
}
}
]
}
